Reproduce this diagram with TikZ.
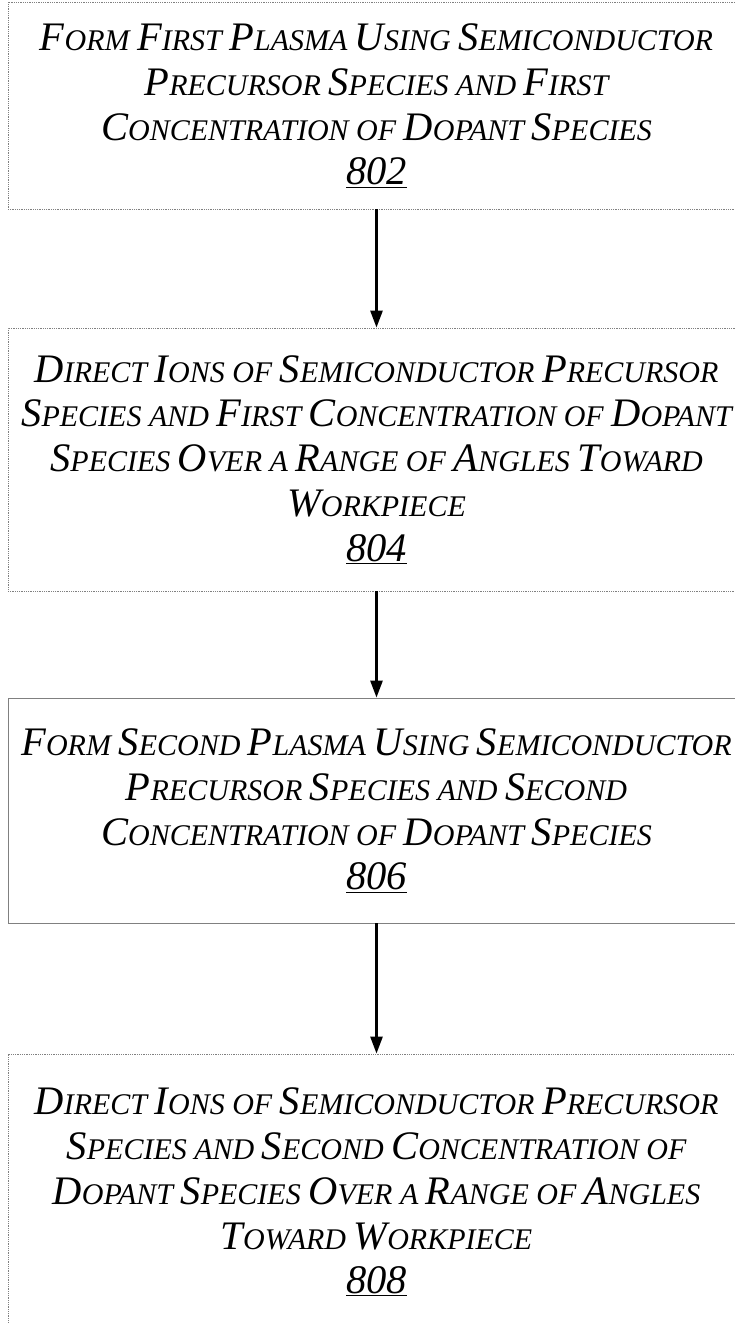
\documentclass[tikz,border=0pt]{standalone}
\usepackage{fontspec}
\setmainfont{Liberation Serif}
\usetikzlibrary{arrows.meta}
\newcommand\Bg[1]{{\fontsize{40.5}{44.8}\selectfont #1}}
\newcommand\Sm[1]{{\fontsize{30}{44.8}\selectfont #1}}
\def\Wd#1#2\relax{\Bg{#1}\Sm{#2}}
\newcommand\W[1]{\Wd#1\relax}
\tikzset{
  stepbox/.style={draw=gray, line width=0.8pt, densely dotted, rectangle, inner sep=0pt,
    minimum width=737pt, align=center,
    font=\itshape\fontsize{30}{44.8}\selectfont},
  solidbox/.style={stepbox, solid},
  arr/.style={line width=2.6pt, -{Triangle[width=12pt,length=17pt]}}
}
\begin{document}
\begin{tikzpicture}[x=1pt,y=-1pt]
\useasboundingbox (0,0) rectangle (735,1323);
\clip (0,0) rectangle (735,1323);
\node[stepbox, minimum height=207pt] (b1) at (376.5,105.5) {%
\W{FORM} \W{FIRST} \W{PLASMA} \W{USING} \W{SEMICONDUCTOR}\\
\W{PRECURSOR} \W{SPECIES} \Sm{AND} \W{FIRST}\\
\W{CONCENTRATION} \Sm{OF} \W{DOPANT} \W{SPECIES}\\
\Bg{\underline{802}}};
\node[stepbox, minimum height=263pt] (b2) at (376.5,459.5) {%
\W{DIRECT} \W{IONS} \Sm{OF} \W{SEMICONDUCTOR} \W{PRECURSOR}\\
\W{SPECIES} \Sm{AND} \W{FIRST} \W{CONCENTRATION} \Sm{OF} \W{DOPANT}\\
\W{SPECIES} \W{OVER} \Sm{A} \W{RANGE} \Sm{OF} \W{ANGLES} \W{TOWARD}\\
\W{WORKPIECE}\\
\Bg{\underline{804}}};
\node[solidbox, minimum height=225pt] (b3) at (376.5,810.5) {%
\W{FORM} \W{SECOND} \W{PLASMA} \W{USING} \W{SEMICONDUCTOR}\\
\W{PRECURSOR} \W{SPECIES} \Sm{AND} \W{SECOND}\\
\W{CONCENTRATION} \Sm{OF} \W{DOPANT} \W{SPECIES}\\
\Bg{\underline{806}}};
\node[stepbox, minimum height=276pt] (b4) at (376.5,1192) {%
\W{DIRECT} \W{IONS} \Sm{OF} \W{SEMICONDUCTOR} \W{PRECURSOR}\\
\W{SPECIES} \Sm{AND} \W{SECOND} \W{CONCENTRATION} \Sm{OF}\\
\W{DOPANT} \W{SPECIES} \W{OVER} \Sm{A} \W{RANGE} \Sm{OF} \W{ANGLES}\\
\W{TOWARD} \W{WORKPIECE}\\
\Bg{\underline{808}}};
\draw[arr] (b1.south) -- (b2.north);
\draw[arr] (b2.south) -- (b3.north);
\draw[arr] (b3.south) -- (b4.north);
\end{tikzpicture}
\end{document}
